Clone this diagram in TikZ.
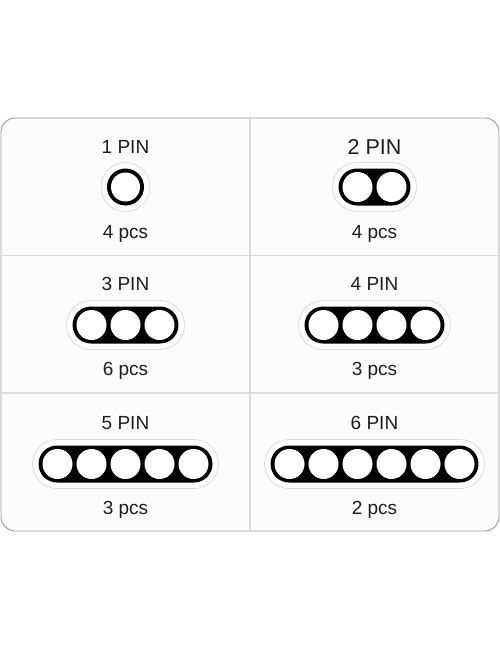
\documentclass[tikz,border=0pt]{standalone}
\usepackage{fontspec}
\setmainfont{Liberation Sans}
\definecolor{framegray}{HTML}{9A9A9A}
\definecolor{divgray}{HTML}{DCDCDC}
\definecolor{bggray}{HTML}{FCFCFC}
\definecolor{halogray}{HTML}{DDDDDD}
\definecolor{txt}{HTML}{1E1E1E}
\tikzset{
  label text/.style={font=\fontsize{19}{19}\selectfont, text=txt, inner sep=0pt, anchor=base},
  big text/.style={font=\fontsize{21.5}{21.5}\selectfont, text=txt, inner sep=0pt, anchor=base},
  halo/.style={draw=halogray, line width=0.8pt, fill=white},
  pill/.style={fill=black},
  hole/.style={fill=white},
}
\newcommand\pinpill[4]{% #1 = x center, #2 = y center, #3 = n pins, #4 = name
  \pgfmathsetmacro\hw{(#3-1)*17+19}
  \pgfmathsetmacro\hwh{\hw+6}
  \fill[halo, rounded corners=24.5pt] (#1-\hwh,#2-24.5) rectangle (#1+\hwh,#2+24.5);
  \fill[pill, rounded corners=18.5pt] (#1-\hw,#2-18.5) rectangle (#1+\hw,#2+18.5);
  \foreach \k in {1,...,#3} {
    \pgfmathsetmacro\cx{#1+(\k-1)*34-(#3-1)*17}
    \fill[hole] (\cx,#2) circle (15);
  }
  \coordinate (#4) at (#1,#2);
}
\begin{document}
\begin{tikzpicture}[x=1pt,y=-1pt]
\useasboundingbox (0,0) rectangle (500,650);
\fill[white] (0,0) rectangle (500,650);
\draw[framegray, fill=bggray, line width=0.9pt, rounded corners=14pt] (1,118) rectangle (499,531);
\draw[divgray, line width=1.2pt] (250,118.5) -- (250,530.5);
\draw[divgray, line width=1.2pt] (1.5,255.5) -- (498.5,255.5);
\draw[divgray, line width=1.2pt] (1.5,393) -- (498.5,393);

% Row 1
\node[label text] (t1) at (125.5,153.5) {1 PIN};
\draw[halo] (125.5,187) circle (24.5);
\fill[black] (125.5,187) circle (18.5);
\fill[white] (125.5,187) circle (14.5);
\coordinate (p1) at (125.5,187);
\node[label text] (c1) at (125.5,238) {4 pcs};

\node[big text] (t2) at (374.5,154.5) {2 PIN};
\pinpill{374.5}{187}{2}{p2}
\node[label text] (c2) at (374.5,238) {4 pcs};

% Row 2
\node[label text] (t3) at (125.5,290.5) {3 PIN};
\pinpill{125.5}{325}{3}{p3}
\node[label text] (c3) at (125.5,375) {6 pcs};

\node[label text] (t4) at (374.5,290.5) {4 PIN};
\pinpill{374.5}{325}{4}{p4}
\node[label text] (c4) at (374.5,375) {3 pcs};

% Row 3
\node[label text] (t5) at (125.5,429) {5 PIN};
\pinpill{125.5}{464}{5}{p5}
\node[label text] (c5) at (125.5,514.5) {3 pcs};

\node[label text] (t6) at (374.5,429) {6 PIN};
\pinpill{374.5}{464}{6}{p6}
\node[label text] (c6) at (374.5,514.5) {2 pcs};
\end{tikzpicture}
\end{document}
